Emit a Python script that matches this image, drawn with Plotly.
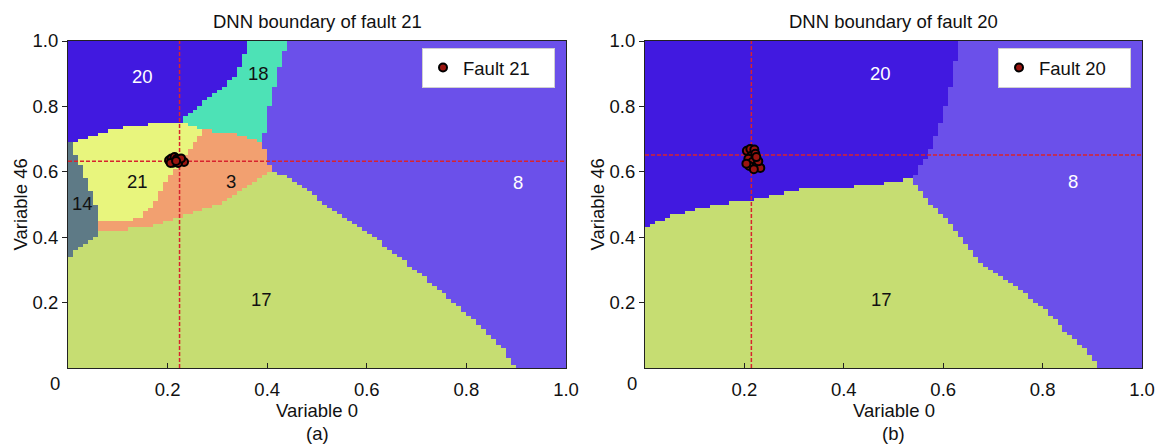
import numpy as np
import plotly.graph_objects as go

# ---------------- data ----------------
grid_n = 100
region_labels = ["20", "8", "18", "21", "3", "17", "14"]
region_colors = ["#4119E0", "#6B50EA", "#4DE2B6", "#E8F57D", "#F2A070", "#C6DD72", "#5E7A86"]

# panel (a): decision-boundary polylines (Variable 0, Variable 46)
a_20_18 = [(0.364, 1.0), (0.35, 0.94), (0.335, 0.89), (0.30, 0.84), (0.277, 0.818),
           (0.25, 0.785), (0.232, 0.768), (0.226, 0.753)]
a_20_21 = [(0.226, 0.753), (0.18, 0.748), (0.112, 0.738), (0.058, 0.712), (0.01, 0.69), (0.0, 0.688)]
a_18_8 = [(0.443, 1.0), (0.427, 0.93), (0.409, 0.829), (0.398, 0.75), (0.392, 0.687)]
a_18_bottom = [(0.392, 0.687), (0.383, 0.697), (0.328, 0.718), (0.274, 0.727), (0.226, 0.753)]
a_21_3 = [(0.274, 0.727), (0.25, 0.68), (0.225, 0.635), (0.21, 0.60), (0.19, 0.555), (0.17, 0.50),
          (0.145, 0.462), (0.13, 0.452), (0.064, 0.452)]
a_3_8 = [(0.392, 0.687), (0.40, 0.64), (0.41, 0.605)]
a_17_top = [(0.41, 0.605), (0.38, 0.575), (0.34, 0.535), (0.30, 0.50), (0.25, 0.475),
            (0.217, 0.461), (0.165, 0.43), (0.064, 0.418)]
a_8_17 = [(0.90, 0.0), (0.876, 0.054), (0.83, 0.125), (0.754, 0.227), (0.68, 0.32), (0.605, 0.41),
          (0.55, 0.47), (0.50, 0.52), (0.45, 0.574), (0.41, 0.605)]
a_14 = [(0.0, 0.688), (0.008, 0.685), (0.012, 0.66), (0.018, 0.64), (0.031, 0.594), (0.046, 0.533),
        (0.057, 0.49), (0.064, 0.47), (0.064, 0.415), (0.057, 0.40), (0.031, 0.374), (0.008, 0.349),
        (0.0, 0.33)]

# panel (b)
b_20_8 = [(0.633, 1.0), (0.626, 0.95), (0.611, 0.83), (0.592, 0.74), (0.569, 0.65), (0.553, 0.61),
          (0.538, 0.579)]
b_20_17 = [(0.538, 0.579), (0.498, 0.569), (0.416, 0.554), (0.302, 0.544), (0.255, 0.528),
           (0.214, 0.513), (0.16, 0.503), (0.112, 0.488), (0.045, 0.462), (0.0, 0.425)]
b_8_17 = [(0.917, 0.0), (0.89, 0.054), (0.845, 0.115), (0.791, 0.197), (0.716, 0.278),
          (0.678, 0.319), (0.641, 0.39), (0.603, 0.462), (0.566, 0.513), (0.538, 0.579)]

# fault samples
fault21_x = [0.203, 0.208, 0.214, 0.219, 0.224, 0.229, 0.233, 0.211, 0.221, 0.227, 0.206, 0.217]
fault21_y = [0.635, 0.641, 0.645, 0.640, 0.636, 0.633, 0.630, 0.628, 0.627, 0.641, 0.627, 0.633]
fault20_x = [0.205, 0.212, 0.220, 0.214, 0.222, 0.208, 0.216, 0.226, 0.232, 0.210, 0.219, 0.228, 0.204, 0.224]
fault20_y = [0.664, 0.670, 0.668, 0.648, 0.655, 0.640, 0.630, 0.622, 0.612, 0.618, 0.608, 0.632, 0.625, 0.645]
cross_a = (0.224, 0.632)
cross_b = (0.214, 0.651)

# region label annotations (text, x, y)
labels_a = [("20", 0.15, 0.89), ("18", 0.383, 0.90), ("21", 0.139, 0.569), ("3", 0.328, 0.569),
            ("14", 0.03, 0.503), ("17", 0.389, 0.211), ("8", 0.904, 0.568)]
labels_b = [("20", 0.474, 0.901), ("8", 0.862, 0.569), ("17", 0.475, 0.211)]
white_labels = ["20", "8"]

tick_vals = [0.2, 0.4, 0.6, 0.8, 1.0]
tick_text = ["0.2", "0.4", "0.6", "0.8", "1.0"]

# ---------------- build grids ----------------
centers = (np.arange(grid_n) + 0.5) / grid_n
GX, GY = np.meshgrid(centers, centers)


def inside(poly):
    xs = np.array([p[0] for p in poly])
    ys = np.array([p[1] for p in poly])
    res = np.zeros(GX.shape, dtype=bool)
    j = len(xs) - 1
    for i in range(len(xs)):
        yi, yj, xi, xj = ys[i], ys[j], xs[i], xs[j]
        if yi != yj:
            cross = (yi > GY) != (yj > GY)
            xint = (xj - xi) * (GY - yi) / (yj - yi) + xi
            res ^= cross & (GX < xint)
        j = i
    return res


code = {lab: k for k, lab in enumerate(region_labels)}

poly_a = [
    ("17", [(0.0, 0.0)] + a_8_17 + a_17_top[1:] + [(0.0, 0.40)]),
    ("3", a_18_bottom[:4] + a_21_3[1:] + a_17_top[::-1] + a_3_8[::-1][1:-1]),
    ("21", a_20_21[::-1] + [(0.274, 0.727)] + a_21_3[1:] + [(0.0, 0.452)]),
    ("14", a_14),
    ("18", a_18_8 + a_18_bottom[1:] + a_20_18[::-1][1:]),
    ("20", [(0.0, 1.0)] + a_20_18 + a_20_21[1:]),
]
poly_b = [
    ("17", [(0.0, 0.0)] + b_8_17 + b_20_17[1:]),
    ("20", [(0.0, 1.0)] + b_20_8 + b_20_17[1:]),
]


def classify(polys, bg="8"):
    g = np.full(GX.shape, code[bg], dtype=float)
    for lab, poly in polys:
        g[inside(poly)] = code[lab]
    return g


grid_a = classify(poly_a)
grid_b = classify(poly_b)

nreg = len(region_colors)
colorscale = []
for k, c in enumerate(region_colors):
    colorscale.append([k / nreg, c])
    colorscale.append([(k + 1) / nreg, c])

# ---------------- figure ----------------
W, H = 1155, 446
FONT = "Arial, Liberation Sans, sans-serif"
FS = 18.5
fig = go.Figure()

for g, xa, ya in [(grid_a, "x", "y"), (grid_b, "x2", "y2")]:
    fig.add_trace(go.Heatmap(x=centers, y=centers, z=g, colorscale=colorscale,
                             zmin=-0.5, zmax=nreg - 0.5, showscale=False,
                             hoverinfo="skip", xaxis=xa, yaxis=ya))

line_style = dict(color="#D8232E", width=1.5, dash="4px,2px")
for (cx, cy), xa, ya in [(cross_a, "x", "y"), (cross_b, "x2", "y2")]:
    fig.add_trace(go.Scatter(x=[cx, cx], y=[0, 1], mode="lines", line=line_style,
                             showlegend=False, hoverinfo="skip", xaxis=xa, yaxis=ya))
    fig.add_trace(go.Scatter(x=[0, 1], y=[cy, cy], mode="lines", line=line_style,
                             showlegend=False, hoverinfo="skip", xaxis=xa, yaxis=ya))

marker = dict(size=8, color="#9A1510", line=dict(color="black", width=2))
fig.add_trace(go.Scatter(x=fault21_x, y=fault21_y, mode="markers", marker=marker,
                         name="Fault 21", xaxis="x", yaxis="y", legend="legend"))
fig.add_trace(go.Scatter(x=fault20_x, y=fault20_y, mode="markers", marker=marker,
                         name="Fault 20", xaxis="x2", yaxis="y2", legend="legend2"))

xdom_a = [68 / W, 566 / W]
xdom_b = [645 / W, 1142 / W]
ydom = [1 - 368 / H, 1 - 41 / H]

common_x = dict(range=[0, 1], tickvals=tick_vals, ticktext=tick_text, ticks="inside", ticklen=5,
                tickcolor="#222", showline=True, linecolor="#222", linewidth=1, mirror=True,
                showgrid=False, zeroline=False, tickfont=dict(size=FS, color="#111"),
                ticklabelstandoff=5)
common_y = dict(range=[0, 1], tickvals=tick_vals, ticktext=tick_text, ticks="outside", ticklen=5,
                tickcolor="#222", showline=True, linecolor="#222", linewidth=1, mirror=True,
                showgrid=False, zeroline=False, tickfont=dict(size=FS, color="#111"))

leg_common = dict(yanchor="top", y=1 - 48 / H, xanchor="left", bgcolor="white",
                  bordercolor="#d0d0d0", borderwidth=1, font=dict(size=FS),
                  orientation="h", entrywidth=86, entrywidthmode="pixels")

fig.update_layout(
    width=W, height=H, margin=dict(l=0, r=0, t=0, b=0, autoexpand=False),
    paper_bgcolor="white", plot_bgcolor="white",
    font=dict(family=FONT, size=FS, color="#111"),
    xaxis=dict(domain=xdom_a, anchor="y", **common_x),
    yaxis=dict(domain=ydom, anchor="x", **common_y),
    xaxis2=dict(domain=xdom_b, anchor="y2", **common_x),
    yaxis2=dict(domain=ydom, anchor="x2", **common_y),
    legend=dict(x=422 / W, **leg_common),
    legend2=dict(x=998 / W, **leg_common),
)

ann = []
for labels, xr, yr in [(labels_a, "x", "y"), (labels_b, "x2", "y2")]:
    for t, x, y in labels:
        ann.append(dict(text=t, x=x, y=y, xref=xr, yref=yr, showarrow=False,
                        xanchor="center", yanchor="middle",
                        font=dict(size=FS, color="white" if t in white_labels else "#111")))

panels = [("DNN boundary of fault 21", "(a)", xdom_a, 20 / W, 55 / W),
          ("DNN boundary of fault 20", "(b)", xdom_b, 597 / W, 632 / W)]
for title, tag, dom, ytx, zx in panels:
    cx = (dom[0] + dom[1]) / 2
    base = dict(xref="paper", yref="paper", showarrow=False, xanchor="center",
                yanchor="middle", font=dict(size=FS))
    ann.append(dict(text=title, x=cx, y=1 - 21 / H, **base))
    ann.append(dict(text="Variable 0", x=cx, y=1 - 410 / H, **base))
    ann.append(dict(text=tag, x=cx, y=1 - 433 / H, **base))
    ann.append(dict(text="Variable 46", x=ytx, y=(ydom[0] + ydom[1]) / 2, textangle=-90, **base))
    ann.append(dict(text="0", x=zx, y=1 - 383 / H, **base))

fig.update_layout(annotations=ann)
fig.write_html("out.html", config={"displayModeBar": False},
               post_script="document.body.style.margin='0';"
                           "document.documentElement.style.overflow='hidden';")
